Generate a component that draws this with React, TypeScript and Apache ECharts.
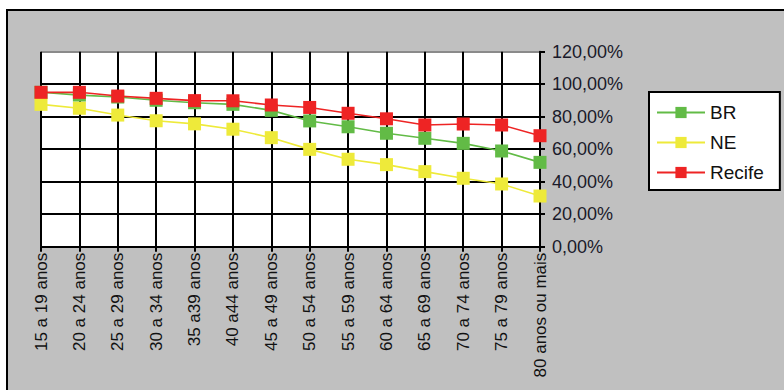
import React, { useEffect, useRef } from "react";
import * as echarts from "echarts";

const categories = [
  "15 a 19 anos", "20 a 24 anos", "25 a 29 anos", "30 a 34 anos", "35 a39 anos",
  "40 a44 anos", "45 a 49 anos", "50 a 54 anos", "55 a 59 anos", "60 a 64 anos",
  "65 a 69 anos", "70 a 74 anos", "75 a 79 anos", "80 anos ou mais",
];
const brValues = [95.0, 93.3, 92.1, 90.1, 88.6, 87.6, 83.9, 77.4, 73.8, 69.8, 66.7, 63.6, 58.9, 51.9];
const neValues = [87.6, 85.2, 81.0, 77.5, 75.6, 72.3, 67.1, 59.9, 53.8, 50.5, 46.2, 42.1, 38.6, 31.2];
const recifeValues = [95.0, 95.0, 92.7, 91.3, 89.9, 89.8, 87.2, 85.7, 82.1, 78.7, 74.9, 75.5, 74.9, 68.3];
const seriesNames = ["BR", "NE", "Recife"];
const seriesColors = ["#62bb46", "#eeea3a", "#ee2424"];

export default function App() {
  const ref = useRef<HTMLDivElement>(null);
  useEffect(() => {
    if (!ref.current) return;
    const chart = echarts.init(ref.current, null, { renderer: "svg" });
    const font = "Arial, 'Liberation Sans', sans-serif";
    const values = [brValues, neValues, recifeValues];
    chart.setOption({
      animation: false,
      backgroundColor: "#ffffff",
      graphic: {
        elements: [
          {
            type: "rect",
            z: -100,
            silent: true,
            shape: { x: 7, y: 10, width: 800, height: 400 },
            style: { fill: "#c0c0c0", stroke: "#000", lineWidth: 2 },
          },
        ],
      },
      grid: {
        left: 41,
        right: 244,
        top: 51.7,
        bottom: 143.3,
        show: true,
        backgroundColor: "#ffffff",
        borderWidth: 0,
      },
      legend: {
        orient: "vertical",
        left: 649,
        top: 92,
        padding: [11, 16, 8, 7],
        itemGap: 11,
        itemWidth: 48,
        itemHeight: 14,
        backgroundColor: "#ffffff",
        borderColor: "#000",
        borderWidth: 2,
        borderRadius: 0,
        textStyle: { fontFamily: font, fontSize: 19, color: "#111", lineHeight: 18, padding: [0, 0, 0, 0] },
        data: seriesNames,
      },
      xAxis: {
        type: "category",
        data: categories,
        boundaryGap: false,
        axisLine: { show: true, lineStyle: { color: "#000", width: 2 } },
        axisTick: { show: true, length: 5, lineStyle: { color: "#000", width: 2 }, interval: 0 },
        splitLine: { show: true, interval: 0, lineStyle: { color: "#000", width: 2 } },
        axisLabel: {
          interval: 0,
          rotate: 90,
          margin: 6,
          fontFamily: font,
          fontSize: 17,
          color: "#111",
        },
      },
      yAxis: {
        type: "value",
        position: "right",
        min: 0,
        max: 120,
        interval: 20,
        axisLine: { show: true, lineStyle: { color: "#000", width: 2 } },
        axisTick: { show: true, inside: false, length: 5, lineStyle: { color: "#000", width: 2 } },
        splitLine: {
          show: true,
          lineStyle: {
            color: ["#000", "#000", "#000", "#000", "#000", "#000", "#8a8a8a"],
            width: 2,
          },
        },
        axisLabel: {
          margin: 12,
          fontFamily: font,
          fontSize: 18,
          color: "#1a1a2a",
          formatter: (v: number) => v.toFixed(2).replace(".", ",") + "%",
        },
      },
      series: seriesNames.map((name, i) => ({
        name,
        type: "line",
        data: values[i],
        symbol: "rect",
        symbolSize: 13,
        itemStyle: { color: seriesColors[i] },
        lineStyle: { color: seriesColors[i], width: 1.6 },
        z: 3 + i,
      })),
    });
    return () => chart.dispose();
  }, []);
  return (
    <div
      ref={ref}
      style={{ position: "absolute", left: 0, top: 0, width: 784, height: 390 }}
    />
  );
}
